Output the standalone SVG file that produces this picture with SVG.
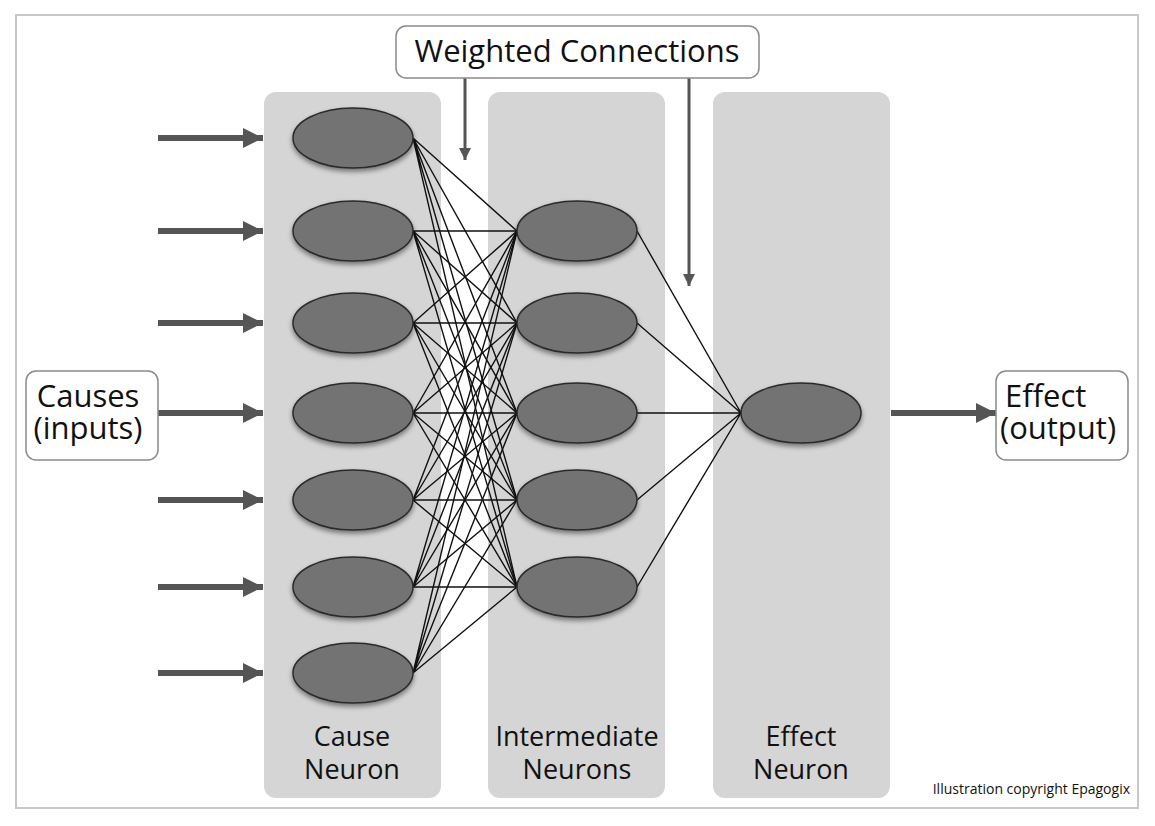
<svg xmlns="http://www.w3.org/2000/svg" width="1155" height="826" viewBox="0 0 1155 826">
<defs>
<style>
.col{fill:#d5d5d5}
.neu{fill:#737373;stroke:#2a2a2a;stroke-width:1.5;filter:url(#sh)}
.lbl{fill:#fff;stroke:#8a8a8a;stroke-width:1.5}
.t{font-family:"Open Sans","Liberation Sans",sans-serif;fill:#111}
.big{font-size:31px}
.mid{font-size:27px}
.w{stroke:#111;stroke-width:1.4;fill:none}
.fat{stroke:#555;stroke-width:6;fill:none}
.thin{stroke:#555;stroke-width:3;fill:none}
</style>
<filter id="sh" x="-20%" y="-30%" width="140%" height="170%">
<feDropShadow dx="0" dy="3" stdDeviation="2.5" flood-color="#000" flood-opacity="0.45"/>
</filter>
<marker id="ah" markerUnits="userSpaceOnUse" viewBox="0 0 20 20" refX="20" refY="10" markerWidth="20" markerHeight="20" orient="auto">
<path d="M0,0 L20,10 L0,20 Z" fill="#555"/>
</marker>
<marker id="as" markerUnits="userSpaceOnUse" viewBox="0 0 12 12" refX="12" refY="6" markerWidth="12" markerHeight="12" orient="auto">
<path d="M0,0 L12,6 L0,12 Z" fill="#555"/>
</marker>
</defs>
<rect width="1155" height="826" fill="#fff"/>
<rect x="16" y="15" width="1122" height="793" fill="none" stroke="#c8c8c8" stroke-width="2"/>

<g id="col-cause"><rect class="col" x="264" y="92" width="177" height="706" rx="12"/>
<text class="t mid" x="352" y="746" text-anchor="middle">Cause</text>
<text class="t mid" x="352" y="779" text-anchor="middle">Neuron</text></g>
<g id="col-intermediate"><rect class="col" x="488" y="92" width="177" height="706" rx="12"/>
<text class="t mid" x="577" y="746" text-anchor="middle">Intermediate</text>
<text class="t mid" x="577" y="779" text-anchor="middle">Neurons</text></g>
<g id="col-effect"><rect class="col" x="713" y="92" width="177" height="706" rx="12"/>
<text class="t mid" x="801" y="746" text-anchor="middle">Effect</text>
<text class="t mid" x="801" y="779" text-anchor="middle">Neuron</text></g>

<g id="connectors">
<g class="w">
<path d="M413,138L517,231M413,138L517,323M413,138L517,413M413,138L517,500M413,138L517,587"/>
<path d="M413,231L517,231M413,231L517,323M413,231L517,413M413,231L517,500M413,231L517,587"/>
<path d="M413,323L517,231M413,323L517,323M413,323L517,413M413,323L517,500M413,323L517,587"/>
<path d="M413,413L517,231M413,413L517,323M413,413L517,413M413,413L517,500M413,413L517,587"/>
<path d="M413,500L517,231M413,500L517,323M413,500L517,413M413,500L517,500M413,500L517,587"/>
<path d="M413,587L517,231M413,587L517,323M413,587L517,413M413,587L517,500M413,587L517,587"/>
<path d="M413,673L517,231M413,673L517,323M413,673L517,413M413,673L517,500M413,673L517,587"/>
<path d="M637,231L741,413M637,323L741,413M637,413L741,413M637,500L741,413M637,587L741,413"/>
</g>
<g class="fat">
<line x1="158" y1="138" x2="263" y2="138" marker-end="url(#ah)"/>
<line x1="158" y1="231" x2="263" y2="231" marker-end="url(#ah)"/>
<line x1="158" y1="323" x2="263" y2="323" marker-end="url(#ah)"/>
<line x1="158" y1="413" x2="263" y2="413" marker-end="url(#ah)"/>
<line x1="158" y1="500" x2="263" y2="500" marker-end="url(#ah)"/>
<line x1="158" y1="587" x2="263" y2="587" marker-end="url(#ah)"/>
<line x1="158" y1="673" x2="263" y2="673" marker-end="url(#ah)"/>
<line x1="891" y1="413" x2="996" y2="413" marker-end="url(#ah)"/>
</g>
<g class="thin">
<line x1="465" y1="78" x2="465" y2="160" marker-end="url(#as)"/>
<line x1="689" y1="78" x2="689" y2="286" marker-end="url(#as)"/>
</g>
</g>

<g id="cause-neurons">
<ellipse class="neu" cx="353" cy="138" rx="60" ry="30"/>
<ellipse class="neu" cx="353" cy="231" rx="60" ry="30"/>
<ellipse class="neu" cx="353" cy="323" rx="60" ry="30"/>
<ellipse class="neu" cx="353" cy="413" rx="60" ry="30"/>
<ellipse class="neu" cx="353" cy="500" rx="60" ry="30"/>
<ellipse class="neu" cx="353" cy="587" rx="60" ry="30"/>
<ellipse class="neu" cx="353" cy="673" rx="60" ry="30"/>
</g>
<g id="intermediate-neurons">
<ellipse class="neu" cx="577" cy="231" rx="60" ry="30"/>
<ellipse class="neu" cx="577" cy="323" rx="60" ry="30"/>
<ellipse class="neu" cx="577" cy="413" rx="60" ry="30"/>
<ellipse class="neu" cx="577" cy="500" rx="60" ry="30"/>
<ellipse class="neu" cx="577" cy="587" rx="60" ry="30"/>
</g>
<g id="effect-neuron">
<ellipse class="neu" cx="801" cy="413" rx="60" ry="30"/>
</g>

<g id="weighted-connections">
<rect class="lbl" x="396" y="26" width="363" height="52" rx="10"/>
<text class="t big" x="577" y="62" text-anchor="middle">Weighted Connections</text>
</g>
<g id="causes">
<rect class="lbl" x="26" y="371" width="132" height="89" rx="10"/>
<text class="t big" x="88" y="407" text-anchor="middle">Causes</text>
<text class="t big" x="88" y="439" text-anchor="middle">(inputs)</text>
</g>
<g id="effect">
<rect class="lbl" x="996" y="371" width="132" height="89" rx="10"/>
<text class="t big" x="1005" y="407">Effect</text>
<text class="t big" x="1000" y="439">(output)</text>
</g>
<text class="t" x="1130" y="794" text-anchor="end" font-size="14">Illustration copyright Epagogix</text>
</svg>
